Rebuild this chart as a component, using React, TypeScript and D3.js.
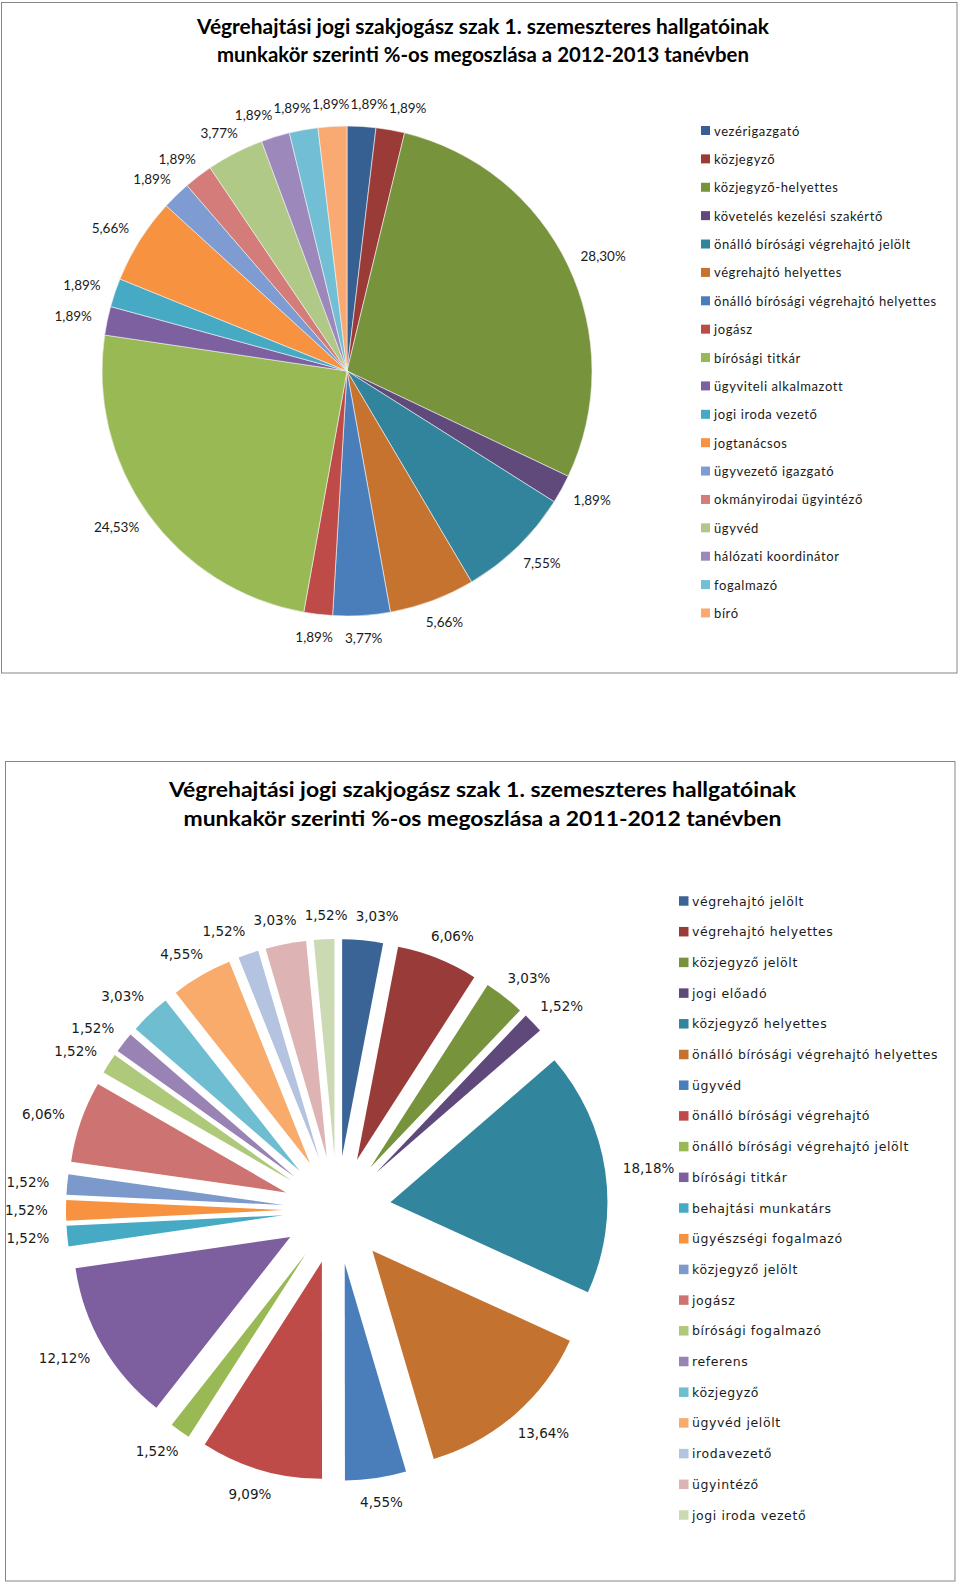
import React, { useEffect, useRef } from 'react';
import * as d3 from 'd3';

// ---------- Chart 1 (2012-2013) ----------
const topTitle = [
  'Végrehajtási jogi szakjogász szak 1. szemeszteres hallgatóinak',
  'munkakör szerinti %-os megoszlása a 2012-2013 tanévben',
];
const topCategories = [
  'vezérigazgató',
  'közjegyző',
  'közjegyző-helyettes',
  'követelés kezelési szakértő',
  'önálló bírósági végrehajtó jelölt',
  'végrehajtó helyettes',
  'önálló bírósági végrehajtó helyettes',
  'jogász',
  'bírósági titkár',
  'ügyviteli alkalmazott',
  'jogi iroda vezető',
  'jogtanácsos',
  'ügyvezető igazgató',
  'okmányirodai ügyintéző',
  'ügyvéd',
  'hálózati koordinátor',
  'fogalmazó',
  'bíró',
];
const topValues = [1.89, 1.89, 28.3, 1.89, 7.55, 5.66, 3.77, 1.89, 24.53, 1.89, 1.89, 5.66, 1.89, 1.89, 3.77, 1.89, 1.89, 1.89];
const topColors = [
  '#376092', '#9b3b38', '#77933c', '#604a7b', '#31849b', '#c5732f',
  '#4a7ebb', '#be4b48', '#98b954', '#7d60a0', '#46aac5', '#f69240',
  '#7f9cd2', '#d37c7a', '#b0c986', '#9d88bc', '#72bfd5', '#f8aa72',
];

// ---------- Chart 2 (2011-2012) ----------
const bottomTitle = [
  'Végrehajtási jogi szakjogász szak 1. szemeszteres hallgatóinak',
  'munkakör szerinti %-os megoszlása a 2011-2012 tanévben',
];
const bottomCategories = [
  'végrehajtó jelölt',
  'végrehajtó helyettes',
  'közjegyző jelölt',
  'jogi előadó',
  'közjegyző helyettes',
  'önálló bírósági végrehajtó helyettes',
  'ügyvéd',
  'önálló bírósági végrehajtó',
  'önálló bírósági végrehajtó jelölt',
  'bírósági titkár',
  'behajtási munkatárs',
  'ügyészségi fogalmazó',
  'közjegyző jelölt',
  'jogász',
  'bírósági fogalmazó',
  'referens',
  'közjegyző',
  'ügyvéd jelölt',
  'irodavezető',
  'ügyintéző',
  'jogi iroda vezető',
];
const bottomValues = [3.03, 6.06, 3.03, 1.52, 18.18, 13.64, 4.55, 9.09, 1.52, 12.12, 1.52, 1.52, 1.52, 6.06, 1.52, 1.52, 3.03, 4.55, 1.52, 3.03, 1.52];
const bottomColors = [
  '#3b6496', '#993b39', '#77933c', '#5f497a', '#31859c', '#c4722f',
  '#4a7ebb', '#be4b48', '#98b954', '#7d5fa0', '#46aac5', '#f69240',
  '#7b99cb', '#cd7371', '#afc97a', '#9983b5', '#6fbdd1', '#f9ab6b',
  '#b3c3e0', '#deb3b3', '#ccdab4',
];

const fmt = (v: number) => d3.format('.2f')(v).replace('.', ',') + '%';

type PieOpts = {
  values: number[];
  colors: string[];
  cx: number;
  cy: number;
  R: number;
  explode: number;
  gap: number;
  labelFont: string;
  labelSize: number;
  stroke: string;
  strokeWidth: number;
  pad: number;
};

type Lab = { t: d3.Selection<SVGTextElement, unknown, null, undefined>; x: number; y: number; w: number; h: number };

function drawPie(svg: d3.Selection<SVGSVGElement, unknown, null, undefined>, o: PieOpts) {
  const pie = d3.pie<number>().sort(null).value((d) => d)(o.values);
  const arc = d3.arc<d3.PieArcDatum<number>>().innerRadius(0).outerRadius(o.R);
  const g = svg.append('g').attr('transform', `translate(${o.cx},${o.cy})`);
  const labs: Lab[] = [];
  pie.forEach((p, i) => {
    const mid = (p.startAngle + p.endAngle) / 2;
    const ox = Math.sin(mid) * o.explode;
    const oy = -Math.cos(mid) * o.explode;
    g.append('path')
      .attr('d', arc(p) as string)
      .attr('transform', `translate(${ox},${oy})`)
      .attr('fill', o.colors[i])
      .attr('stroke', o.stroke)
      .attr('stroke-width', o.strokeWidth);
    const t = g
      .append('text')
      .text(fmt(o.values[i]))
      .attr('font-family', o.labelFont)
      .attr('font-size', o.labelSize)
      .attr('fill', '#1a1a1a')
      .attr('text-anchor', 'middle')
      .attr('dominant-baseline', 'central') as unknown as d3.Selection<SVGTextElement, unknown, null, undefined>;
    const bb = (t.node() as SVGTextElement).getBBox();
    const s = Math.sin(mid);
    const c = -Math.cos(mid);
    const rr = o.R + o.gap;
    const x = ox + s * rr + s * (bb.width / 2);
    const y = oy + c * rr + c * (bb.height * 0.4);
    labs.push({ t, x, y, w: bb.width, h: bb.height * 0.8 });
  });
  // simple collision relaxation between neighbouring labels
  for (let it = 0; it < 80; it++) {
    let moved = false;
    for (let i = 0; i < labs.length; i++) {
      for (let j = i + 1; j < labs.length; j++) {
        const a = labs[i];
        const b = labs[j];
        const ovx = (a.w + b.w) / 2 + o.pad - Math.abs(a.x - b.x);
        const ovy = (a.h + b.h) / 2 - Math.abs(a.y - b.y);
        if (ovx > 0 && ovy > 0) {
          moved = true;
          if (ovx < ovy * 5) {
            const d = (ovx / 2) * (a.x <= b.x ? 1 : -1);
            a.x -= d;
            b.x += d;
          } else {
            const d = (ovy / 2) * (a.y <= b.y ? 1 : -1);
            a.y -= d;
            b.y += d;
          }
        }
      }
    }
    if (!moved) break;
  }
  labs.forEach((l) => l.t.attr('x', l.x).attr('y', l.y));
}

function drawLegend(
  svg: d3.Selection<SVGSVGElement, unknown, null, undefined>,
  cats: string[],
  colors: string[],
  x: number,
  y0: number,
  step: number,
  box: number,
  textX: number,
  font: string,
  size: number,
  spacing: number
) {
  const y = d3.scaleLinear().domain([0, cats.length - 1]).range([y0, y0 + step * (cats.length - 1)]);
  const g = svg.append('g');
  cats.forEach((c, i) => {
    g.append('rect')
      .attr('x', x)
      .attr('y', y(i) - box / 2)
      .attr('width', box)
      .attr('height', box)
      .attr('fill', colors[i]);
    g.append('text')
      .attr('x', textX)
      .attr('y', y(i))
      .attr('dominant-baseline', 'central')
      .attr('font-family', font)
      .attr('font-size', size)
      .attr('letter-spacing', spacing)
      .attr('fill', '#1a1a1a')
      .text(c);
  });
}

function drawTitle(
  svg: d3.Selection<SVGSVGElement, unknown, null, undefined>,
  lines: string[],
  cx: number,
  ys: number[],
  widths: number[]
) {
  lines.forEach((l, i) => {
    svg
      .append('text')
      .attr('x', cx)
      .attr('y', ys[i])
      .attr('text-anchor', 'middle')
      .attr('font-family', 'Lato, "Open Sans", sans-serif')
      .attr('font-weight', 'bold')
      .attr('font-size', 21)
      .attr('fill', '#000')
      .attr('textLength', widths[i])
      .attr('lengthAdjust', 'spacingAndGlyphs')
      .text(l);
  });
}

export default function App() {
  const ref = useRef<SVGSVGElement | null>(null);
  useEffect(() => {
    if (!ref.current) return;
    const svg = d3.select(ref.current);
    svg.selectAll('*').remove();
    svg.append('rect').attr('width', 960).attr('height', 1586).attr('fill', '#fff');

    // frames
    svg.append('rect').attr('x', 1.5).attr('y', 2.5).attr('width', 955.5).attr('height', 670.5)
      .attr('fill', 'none').attr('stroke', '#868686').attr('stroke-width', 1);
    svg.append('rect').attr('x', 5.5).attr('y', 761.5).attr('width', 949.5).attr('height', 819.5)
      .attr('fill', 'none').attr('stroke', '#868686').attr('stroke-width', 1);

    // chart 1
    drawTitle(svg, topTitle, 483, [34, 62], [572, 532]);
    drawPie(svg, {
      values: topValues, colors: topColors, cx: 347, cy: 371, R: 245, explode: 0, gap: 16,
      labelFont: 'Lato, "Open Sans", sans-serif', labelSize: 13.5, stroke: '#f4f4f4', strokeWidth: 0.6, pad: 1,
    });
    drawLegend(svg, topCategories, topColors, 701, 130.5, 28.38, 9, 714, 'Lato, "Open Sans", sans-serif', 13, 0.6);

    // chart 2
    drawTitle(svg, bottomTitle, 482.5, [797, 826], [627, 598]);
    drawPie(svg, {
      values: bottomValues, colors: bottomColors, cx: 337, cy: 1210, R: 217, explode: 54, gap: 18,
      labelFont: '"DejaVu Sans", Verdana, sans-serif', labelSize: 13.5, stroke: 'none', strokeWidth: 0, pad: 8,
    });
    drawLegend(svg, bottomCategories, bottomColors, 679, 901, 30.7, 9.5, 692, '"DejaVu Sans", Verdana, sans-serif', 12.5, 0.6);
  }, []);
  return (
    <svg
      ref={ref}
      width={960}
      height={1586}
      style={{ position: 'absolute', left: 0, top: 0, display: 'block' }}
    />
  );
}
